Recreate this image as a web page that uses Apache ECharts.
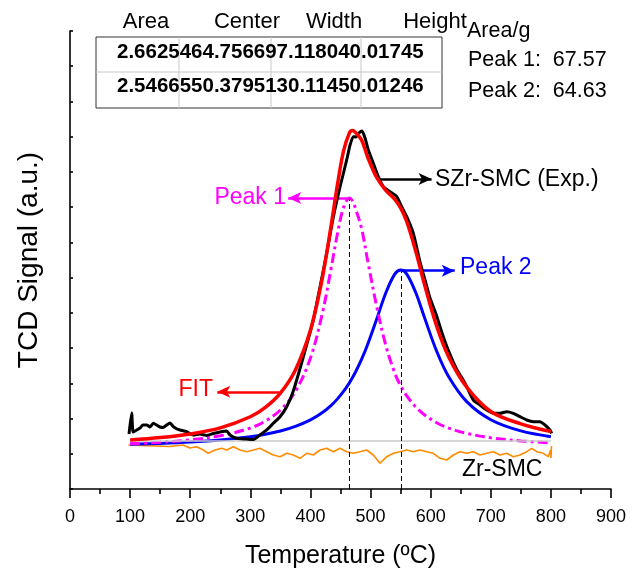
<!DOCTYPE html>
<html>
<head>
<meta charset="utf-8">
<script src="https://cdn.jsdelivr.net/npm/echarts@6/dist/echarts.min.js"></script>
<style>html,body{margin:0;padding:0;background:#fff}#c{width:632px;height:569px}</style>
</head>
<body>
<div id="c"></div>
<script>
// ---- data (temperature in ºC, TCD signal in a.u. where 1 unit = one y tick) ----
const fitTemp = [100,150,200,250,300,325,350,375,400,420,435,445,455,465,470,475,485,495,510,525,540,550,560,575,590,610,630,660,700,750,800];
const fitSignal = [1.391,1.459,1.563,1.735,2.051,2.317,2.723,3.381,4.513,6.009,7.539,8.646,9.588,10.116,10.178,10.116,9.91,9.43,8.85,8.485,8.23,7.98,7.60,6.76,5.79,4.62,3.75,2.89,2.2,1.85,1.632];
const peak1Signal = [1.287,1.329,1.395,1.509,1.731,1.928,2.241,2.770,3.718,5.001,6.321,7.252,7.985,8.260,8.178,7.959,7.40,6.50,5.20,4.10,3.30,2.93,2.65,2.33,2.10,1.88,1.73,1.58,1.455,1.365,1.31];
const peak2Signal = [1.267,1.294,1.332,1.390,1.483,1.552,1.645,1.775,1.960,2.171,2.382,2.558,2.768,3.020,3.163,3.320,3.677,4.093,4.811,5.549,6.091,6.216,6.108,5.583,4.851,3.909,3.186,2.480,1.967,1.649,1.485];

const expTemp = [98.2,102.6,104.8,108.1,116.5,121.4,127.6,133.1,138.6,144.2,149.7,154.7,160.9,166.4,171.9,178,183,194.1,205.1,216.3,227.4,238.4,249.5,260.7,266.2,277.3,294,305,316,327.2,338.2,349.4,360.5,371.5,388.1,404.8,415.9,427.1,438.1,449.2,460.3,465.9,471.3,475.8,480.8,485.8,490.8,496.3,504.6,512.9,521.2,532.4,543.5,551.8,560.2,571.1,582.3,590.6,598.9,608.9,618.9,627.2,635.5,643.9,652.2,660,671,682.1,693.2,704.2,715.4,726.5,737.5,748.6,759.8,770.8,781.9,790.2,798.5,801.3];
const expSignal = [1.561,2.157,1.618,1.646,1.731,1.817,1.817,1.760,1.865,1.817,1.760,1.746,1.817,1.873,1.768,1.703,1.675,1.626,1.533,1.561,1.519,1.575,1.618,1.646,1.533,1.439,1.419,1.405,1.533,1.675,1.865,2.052,2.336,2.782,3.747,4.797,5.734,6.699,7.721,8.572,9.339,9.764,10.000,9.991,10.105,10.162,9.963,9.622,9.245,8.865,8.581,8.439,8.297,8.013,7.729,7.258,6.443,5.932,5.422,4.967,4.428,4.031,3.690,3.378,3.151,2.904,2.526,2.384,2.242,2.149,2.149,2.194,2.149,2.052,1.959,1.910,1.910,1.817,1.675,1.581];

const zrTemp = [97.3,116.5,141.4,166.4,188,199.6,210.8,221.8,230.1,241.2,252.4,260.7,271.7,282.8,294,305,316.1,327.2,338.2,349.4,360.5,371.5,382.6,393.8,404.8,415.9,427.1,438,449.2,460.3,471.3,482.4,493.6,504.6,515.7,526.9,537.9,549,560.2,571.1,582.3,593.4,604.4,615.5,626.7,637.7,648.8,660,671,682.1,693.2,704.2,715.4,726.5,737.5,748.6,759.8,768.1,776.4,787.4,795.7,799.4,800.2,801];
const zrSignal = [1.249,1.235,1.221,1.206,1.249,1.164,1.201,1.107,1.013,1.107,1.155,1.107,1.201,1.107,1.059,1.107,1.155,1.059,0.965,0.917,1.013,0.965,0.871,1.013,0.965,1.107,1.155,1.059,1.155,1.059,1.013,1.059,1.107,0.965,0.730,0.917,1.013,1.059,1.107,1.059,1.107,1.059,1.013,0.871,0.823,0.965,1.059,1.013,1.059,0.965,1.013,1.059,0.965,1.013,0.917,0.965,1.059,1.155,1.059,1.013,0.917,1.107,0.880,1.221];

const baselineLevel = 1.362;            // grey reference line
const peakCenters = [464.76, 550.38];   // ºC
const peakTops = [8.26, 6.216];         // a.u.
const xTicks = [0,100,200,300,400,500,600,700,800,900];

const tableHeader = ['Area','Center','Width','Height'];
const tableRows = ['2.6625464.756697.118040.01745','2.5466550.3795130.11450.01246'];
const areaPerGram = ['Peak 1:  67.57','Peak 2:  64.63'];

const zip = (xs, ys) => xs.map((x, i) => [x, ys[i]]);
const FONT = '"Liberation Sans", Arial, sans-serif';

const chart = echarts.init(document.getElementById('c'), null, {renderer: 'canvas'});

function arrow(from, to, color) {
  return [{coord: from, symbol: 'none', lineStyle: {color: color, width: 2.5, type: 'solid'}},
          {coord: to, symbol: 'arrow'}];
}

const option = {
  animation: false,
  backgroundColor: '#fff',
  grid: {left: 70, right: 21, top: 31, bottom: 80, containLabel: false, outerBoundsMode: 'none'},
  xAxis: {
    type: 'value', min: xTicks[0], max: xTicks[xTicks.length - 1], interval: 100,
    name: 'Temperature (ºC)', nameLocation: 'middle', nameGap: 55,
    nameTextStyle: {fontSize: 25, fontFamily: FONT, color: '#000'},
    axisLine: {show: true, onZero: false, lineStyle: {color: '#000', width: 1.6}},
    axisTick: {show: true, inside: false, length: 9, lineStyle: {color: '#000', width: 1.6}},
    minorTick: {show: true, splitNumber: 2, length: 5, lineStyle: {color: '#000', width: 1.6}},
    axisLabel: {fontSize: 18, fontFamily: FONT, color: '#000', margin: 19},
    splitLine: {show: false}
  },
  yAxis: {
    type: 'value', min: 0, max: 13, interval: 1,
    name: 'TCD Signal (a.u.)', nameLocation: 'middle', nameGap: 27, nameRotate: 90,
    nameTextStyle: {fontSize: 28, fontFamily: FONT, color: '#000'},
    axisLine: {show: true, onZero: false, lineStyle: {color: '#000', width: 1.6}},
    axisTick: {show: true, inside: true, length: 3, lineStyle: {color: '#000', width: 1.6}},
    axisLabel: {show: false},
    splitLine: {show: false}
  },
  series: [
    {
      name: 'Zr-SMC', type: 'line', data: zip(zrTemp, zrSignal), showSymbol: false,
      lineStyle: {color: '#ff8c00', width: 1.6}, z: 2,
      markLine: {silent: true, symbol: 'none', label: {show: false},
        lineStyle: {color: '#c8c8c8', width: 1.5, type: 'solid'},
        data: [[{coord: [fitTemp[0], baselineLevel]}, {coord: [fitTemp[fitTemp.length - 1], baselineLevel]}]]}
    },
    {
      name: 'Peak 2', type: 'line', data: zip(fitTemp, peak2Signal), showSymbol: false, smooth: 0.35,
      lineStyle: {color: '#0000ff', width: 3}, z: 3,
      markLine: {silent: true, label: {show: false}, symbolSize: [9, 13],
        data: [
          [{coord: [peakCenters[1], 0], symbol: 'none', lineStyle: {color: '#000', width: 1, type: [5, 3]}},
           {coord: [peakCenters[1], peakTops[1]], symbol: 'none'}],
          arrow([peakCenters[1], 6.196], [640, 6.196], '#0000ff')
        ]}
    },
    {
      name: 'Peak 1', type: 'line', data: zip(fitTemp, peak1Signal), showSymbol: false, smooth: 0.35,
      lineStyle: {color: '#ff00ff', width: 3, type: [10, 4, 3, 4]}, z: 4,
      markLine: {silent: true, label: {show: false}, symbolSize: [9, 13],
        data: [
          [{coord: [peakCenters[0], 0], symbol: 'none', lineStyle: {color: '#000', width: 1, type: [5, 3]}},
           {coord: [peakCenters[0], peakTops[0]], symbol: 'none'}],
          arrow([peakCenters[0], peakTops[0]], [363, peakTops[0]], '#ff00ff')
        ]}
    },
    {
      name: 'SZr-SMC (Exp.)', type: 'line', data: zip(expTemp, expSignal), showSymbol: false, smooth: 0.2,
      lineStyle: {color: '#000', width: 3}, z: 5,
      markLine: {silent: true, label: {show: false}, symbolSize: [9, 13],
        data: [arrow([515.7, 8.80], [601.5, 8.80], '#000')]}
    },
    {
      name: 'FIT', type: 'line', data: zip(fitTemp, fitSignal), showSymbol: false, smooth: 0.35,
      lineStyle: {color: '#ff0000', width: 3.5}, z: 6,
      markLine: {silent: true, label: {show: false}, symbolSize: [9, 13],
        data: [arrow([349, 2.76], [245, 2.76], '#ff0000')]}
    }
  ],
  graphic: []
};

const g = [];
// table
g.push({type: 'rect', shape: {x: 96, y: 37, width: 346, height: 71}, style: {fill: 'none', stroke: '#333', lineWidth: 1}, z: 10});
g.push({type: 'line', shape: {x1: 96, y1: 72, x2: 442, y2: 72}, style: {stroke: '#c8c8c8', lineWidth: 1}, z: 10});
[179, 271, 361].forEach(x => g.push({type: 'line', shape: {x1: x, y1: 37, x2: x, y2: 108}, style: {stroke: '#c8c8c8', lineWidth: 1}, z: 10}));
const headerX = [146, 247, 334, 435];
tableHeader.forEach((t, i) => g.push({type: 'text', style: {text: t, x: headerX[i], y: 22, align: 'center', verticalAlign: 'middle', font: '22px ' + FONT, fill: '#000'}, z: 11}));
tableRows.forEach((t, i) => g.push({type: 'text', style: {text: t, x: 117, y: 52 + i * 34.5, align: 'left', verticalAlign: 'middle', font: 'bold 20.5px ' + FONT, fill: '#000'}, z: 11}));
g.push({type: 'text', style: {text: 'Area/g', x: 467, y: 31, align: 'left', verticalAlign: 'middle', font: '21.5px ' + FONT, fill: '#000'}, z: 11});
areaPerGram.forEach((t, i) => g.push({type: 'text', style: {text: t, x: 468, y: 60 + i * 31, align: 'left', verticalAlign: 'middle', font: '21.5px ' + FONT, fill: '#000'}, z: 11}));
// curve labels
g.push({type: 'text', style: {text: 'SZr-SMC (Exp.)', x: 435, y: 180, align: 'left', verticalAlign: 'middle', font: '23px ' + FONT, fill: '#000'}, z: 11});
g.push({type: 'text', style: {text: 'Peak 1', x: 286, y: 198, align: 'right', verticalAlign: 'middle', font: '23px ' + FONT, fill: '#ff00ff'}, z: 11});
g.push({type: 'text', style: {text: 'Peak 2', x: 460, y: 268, align: 'left', verticalAlign: 'middle', font: '23px ' + FONT, fill: '#0000ff'}, z: 11});
g.push({type: 'text', style: {text: 'FIT', x: 213, y: 390, align: 'right', verticalAlign: 'middle', font: '23px ' + FONT, fill: '#ff0000'}, z: 11});
g.push({type: 'text', style: {text: 'Zr-SMC', x: 462, y: 470, align: 'left', verticalAlign: 'middle', font: '23px ' + FONT, fill: '#000'}, z: 11});
option.graphic = g;

chart.setOption(option);
</script>
</body>
</html>
